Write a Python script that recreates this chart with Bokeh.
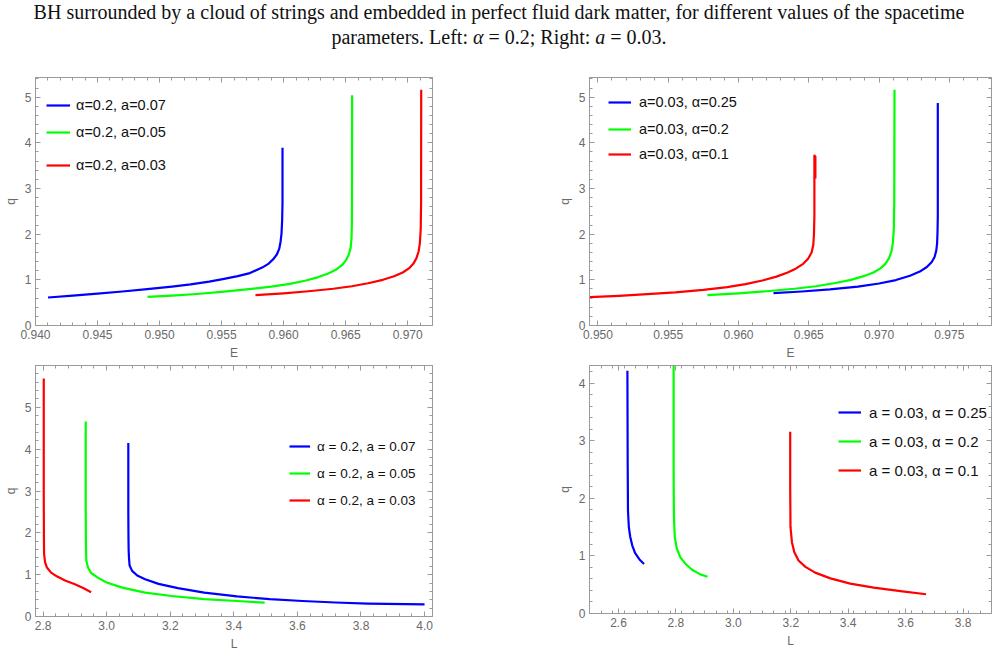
from bokeh.plotting import figure
from bokeh.models import (Range1d, FixedTicker, PrintfTickFormatter, LinearAxis,
                          Legend, LegendItem, Div)
from bokeh.layouts import column, row
from bokeh.embed import file_html
from bokeh.resources import INLINE

BLUE, GREEN, RED = "#0000ff", "#00ff00", "#ff0000"
FRAME = "#9a9a9a"
TICK_TEXT = "#6a6a6a"
SANS = "Liberation Sans"

# ---- top-left: q versus E, alpha = 0.2 ----
tl_labels = ["α=0.2, a=0.07", "α=0.2, a=0.05", "α=0.2, a=0.03"]
tl_blue_E = [0.94101, 0.9430, 0.9450, 0.9470, 0.9490, 0.9510, 0.9525, 0.9540, 0.9552,
             0.9563, 0.9572, 0.95827, 0.95880, 0.95919, 0.95946, 0.95965, 0.95975,
             0.95983, 0.95988, 0.95991, 0.95991]
tl_blue_q = [0.613, 0.655, 0.700, 0.745, 0.795, 0.852, 0.900, 0.960, 1.02,
             1.08, 1.14, 1.268, 1.356, 1.458, 1.560, 1.684, 1.829,
             2.012, 2.303, 2.668, 3.892]
tl_green_E = [0.94903, 0.9510, 0.9530, 0.9550, 0.9570, 0.9590, 0.9605, 0.9618, 0.9628,
              0.9636, 0.9642, 0.9647, 0.9650, 0.96525, 0.9654, 0.96547, 0.96550,
              0.96551, 0.96552]
tl_green_q = [0.627, 0.655, 0.690, 0.735, 0.790, 0.850, 0.910, 0.985, 1.06,
              1.14, 1.22, 1.32, 1.42, 1.55, 1.70, 1.90, 2.20,
              2.67, 5.04]
tl_red_E = [0.95773, 0.9600, 0.9620, 0.9640, 0.9655, 0.9668, 0.9680, 0.9689, 0.9696,
            0.9701, 0.97045, 0.9707, 0.97088, 0.97098, 0.97105, 0.97108, 0.97109]
tl_red_q = [0.663, 0.705, 0.750, 0.805, 0.860, 0.925, 1.00, 1.08, 1.16,
            1.25, 1.35, 1.47, 1.62, 1.80, 2.10, 2.67, 5.16]

# ---- top-right: q versus E, a = 0.03 ----
tr_labels = ["a=0.03, α=0.25", "a=0.03, α=0.2", "a=0.03, α=0.1"]
tr_blue_E = [0.96249, 0.9645, 0.9665, 0.9685, 0.9700, 0.9712, 0.9722, 0.9729, 0.9734,
             0.97375, 0.97395, 0.97407, 0.97413, 0.97416, 0.97418, 0.97418, 0.97418]
tr_blue_q = [0.707, 0.745, 0.790, 0.850, 0.920, 0.995, 1.09, 1.18, 1.28,
             1.39, 1.50, 1.64, 1.80, 2.05, 2.40, 3.03, 4.87]
tr_green_E = [0.95779, 0.9600, 0.9620, 0.9640, 0.9655, 0.9668, 0.9680, 0.9689, 0.9696,
              0.9701, 0.97045, 0.9707, 0.97088, 0.97098, 0.97105, 0.97108, 0.97110]
tr_green_q = [0.664, 0.705, 0.750, 0.805, 0.860, 0.925, 1.00, 1.08, 1.16,
              1.25, 1.35, 1.47, 1.62, 1.80, 2.10, 2.67, 5.16]
tr_red_E = [0.9494, 0.9515, 0.9535, 0.9555, 0.9575, 0.9592, 0.9605, 0.9617, 0.9627,
            0.9635, 0.9641, 0.9646, 0.96495, 0.9652, 0.96532, 0.96537, 0.96540,
            0.96540, 0.96547, 0.96547]
tr_red_q = [0.620, 0.650, 0.685, 0.725, 0.780, 0.840, 0.905, 0.985, 1.07,
            1.16, 1.25, 1.35, 1.46, 1.60, 1.76, 2.00, 2.40,
            3.72, 3.70, 3.22]

# ---- bottom-left: q versus L, alpha = 0.2 ----
bl_labels = ["α = 0.2, a = 0.07", "α = 0.2, a = 0.05", "α = 0.2, a = 0.03"]
bl_blue_L = [3.068, 3.068, 3.0685, 3.069, 3.070, 3.072, 3.080, 3.096, 3.121, 3.163,
             3.224, 3.307, 3.410, 3.513, 3.616, 3.719, 3.822, 4.000]
bl_blue_q = [4.15, 2.50, 1.90, 1.60, 1.42, 1.22, 1.09, 0.98, 0.89, 0.78,
             0.68, 0.57, 0.48, 0.415, 0.37, 0.335, 0.31, 0.29]
bl_green_L = [2.934, 2.934, 2.9345, 2.935, 2.936, 2.941, 2.951, 2.972, 2.998, 3.049,
              3.121, 3.204, 3.307, 3.410, 3.497]
bl_green_q = [4.66, 2.60, 1.90, 1.55, 1.34, 1.17, 1.04, 0.93, 0.82, 0.69,
              0.57, 0.49, 0.415, 0.37, 0.33]
bl_red_L = [2.802, 2.802, 2.8025, 2.803, 2.806, 2.812, 2.825, 2.843, 2.869, 2.900,
            2.926, 2.951]
bl_red_q = [5.69, 2.90, 1.90, 1.50, 1.30, 1.17, 1.05, 0.96, 0.86, 0.77,
            0.68, 0.58]

# ---- bottom-right: q versus L, a = 0.03 ----
br_labels = ["a = 0.03, α = 0.25", "a = 0.03, α = 0.2", "a = 0.03, α = 0.1"]
br_blue_L = [2.631, 2.632, 2.633, 2.636, 2.641, 2.648, 2.658, 2.673, 2.689]
br_blue_q = [4.22, 2.60, 1.79, 1.50, 1.33, 1.18, 1.05, 0.94, 0.86]
br_green_L = [2.792, 2.792, 2.793, 2.796, 2.803, 2.815, 2.832, 2.856, 2.885, 2.910]
br_green_q = [4.40, 2.50, 1.68, 1.33, 1.13, 0.98, 0.87, 0.76, 0.68, 0.64]
br_red_L = [3.198, 3.198, 3.199, 3.204, 3.212, 3.227, 3.251, 3.285, 3.338, 3.407,
            3.489, 3.582, 3.671]
br_red_q = [3.16, 2.20, 1.50, 1.24, 1.07, 0.92, 0.81, 0.71, 0.61, 0.52,
            0.45, 0.39, 0.335]

# tick positions
E_ticks_left = [0.940, 0.945, 0.950, 0.955, 0.960, 0.965, 0.970]
E_ticks_right = [0.950, 0.955, 0.960, 0.965, 0.970, 0.975]
L_ticks_left = [2.8, 3.0, 3.2, 3.4, 3.6, 3.8, 4.0]
L_ticks_right = [2.6, 2.8, 3.0, 3.2, 3.4, 3.6, 3.8]
q_ticks_top = [0, 1, 2, 3, 4, 5]
q_ticks_bl = [0, 1, 2, 3, 4, 5]
q_ticks_br = [0, 1, 2, 3, 4]


def minor_between(lo, hi, step, n=5):
    out = []
    k = 0
    v = lo
    while v <= hi + 1e-12:
        out.append(round(v, 6))
        k += 1
        v = lo + k * step / n
    return out


def style_axis(ax, show_labels, label=""):
    ax.axis_line_color = FRAME
    ax.major_tick_line_color = FRAME
    ax.minor_tick_line_color = FRAME
    ax.major_tick_in = 5
    ax.major_tick_out = 0
    ax.minor_tick_in = 3
    ax.minor_tick_out = 0
    if show_labels:
        ax.major_label_text_color = TICK_TEXT
        ax.major_label_text_font = SANS
        ax.major_label_text_font_size = "12px"
        ax.major_label_standoff = 4
        ax.axis_label = label
        ax.axis_label_text_color = TICK_TEXT
        ax.axis_label_text_font = SANS
        ax.axis_label_text_font_size = "12px"
        ax.axis_label_text_font_style = "normal"
        ax.axis_label_standoff = 4
    else:
        ax.major_label_text_font_size = "0px"
        ax.major_label_text_color = None
        ax.major_label_standoff = 0


def panel(width, height, borders, xr, yr, xticks, xminor, yticks, yminor, xfmt, xlabel):
    left, right, top, bottom = borders
    p = figure(width=width, height=height, output_backend="svg", toolbar_location=None,
               x_range=Range1d(*xr), y_range=Range1d(*yr),
               min_border_left=left, min_border_right=right,
               min_border_top=top, min_border_bottom=bottom)
    p.xgrid.visible = False
    p.ygrid.visible = False
    p.outline_line_color = FRAME
    p.background_fill_color = "white"
    p.border_fill_color = "white"
    p.xaxis.ticker = FixedTicker(ticks=xticks, minor_ticks=xminor)
    p.yaxis.ticker = FixedTicker(ticks=yticks, minor_ticks=yminor)
    p.xaxis.formatter = PrintfTickFormatter(format=xfmt)
    style_axis(p.xaxis[0], True, xlabel)
    style_axis(p.yaxis[0], True, "q")
    top_ax = LinearAxis(ticker=FixedTicker(ticks=xticks, minor_ticks=xminor))
    right_ax = LinearAxis(ticker=FixedTicker(ticks=yticks, minor_ticks=yminor))
    style_axis(top_ax, False)
    style_axis(right_ax, False)
    p.add_layout(top_ax, "above")
    p.add_layout(right_ax, "right")
    return p


def add_curves(p, curves, labels, spots, glyph_w, standoff, font_size):
    for (xs, ys, col), lab, (lx, ly) in zip(curves, labels, spots):
        r = p.line(xs, ys, line_color=col, line_width=2.2, line_join="round")
        leg = Legend(items=[LegendItem(label=lab, renderers=[r])], location=(lx, ly),
                     padding=0, margin=0, spacing=0, glyph_width=glyph_w, glyph_height=20,
                     label_height=20, label_standoff=standoff,
                     label_text_font=SANS, label_text_font_size=font_size,
                     label_text_color="#111111",
                     background_fill_alpha=0, border_line_alpha=0)
        p.add_layout(leg)


p1 = panel(540, 312, (31, 108, 27, 37), (0.940, 0.972), (0, 5.43),
           E_ticks_left, minor_between(0.940, 0.972, 0.005), q_ticks_top,
           minor_between(0, 5.4, 1), "%.3f", "E")
add_curves(p1, [(tl_blue_E, tl_blue_q, BLUE), (tl_green_E, tl_green_q, GREEN),
                (tl_red_E, tl_red_q, RED)], tl_labels,
           [(11, 210), (11, 183), (11, 150)], 24, 6, "14.5px")

p2 = panel(458, 312, (49, 7, 27, 37), (0.9494, 0.978), (0, 5.43),
           E_ticks_right, minor_between(0.950, 0.978, 0.005), q_ticks_top,
           minor_between(0, 5.4, 1), "%.3f", "E")
add_curves(p2, [(tr_blue_E, tr_blue_q, BLUE), (tr_green_E, tr_green_q, GREEN),
                (tr_red_E, tr_red_q, RED)], tr_labels,
           [(19, 213), (19, 186), (19, 161)], 23, 8, "14.5px")

p3 = panel(540, 291, (28, 108, 3, 37), (2.776, 4.025), (0, 6.0),
           L_ticks_left, minor_between(2.8, 4.0, 0.2), q_ticks_bl,
           minor_between(0, 6.0, 1), "%.1f", "L")
add_curves(p3, [(bl_blue_L, bl_blue_q, BLUE), (bl_green_L, bl_green_q, GREEN),
                (bl_red_L, bl_red_q, RED)], bl_labels,
           [(254, 160), (254, 133), (254, 106)], 21, 7, "13.5px")

p4 = panel(458, 291, (49, 7, 3, 40), (2.499, 3.899), (0, 4.31),
           L_ticks_right, minor_between(2.5, 3.9, 0.2), q_ticks_br,
           minor_between(0, 4.4, 1), "%.1f", "L")
add_curves(p4, [(br_blue_L, br_blue_q, BLUE), (br_green_L, br_green_q, GREEN),
                (br_red_L, br_red_q, RED)], br_labels,
           [(249, 191), (249, 162), (249, 133)], 23, 8, "15px")

title = Div(
    text=("BH surrounded by a cloud of strings and embedded in perfect fluid dark matter, "
          "for different values of the spacetime<br>parameters. Left: <i>α</i> = 0.2; "
          "Right: <i>a</i> = 0.03."),
    width=998, height=50, margin=0,
    styles={"font-family": "Liberation Serif", "font-size": "20px", "line-height": "25px",
            "text-align": "center", "color": "#111111", "width": "998px",
            "margin": "0", "padding": "0", "overflow": "hidden"},
)

layout = column(title, row(column(p1, p3, spacing=0), column(p2, p4, spacing=0), spacing=0),
                spacing=0)

open("out.html", "w").write(file_html(layout, INLINE))
